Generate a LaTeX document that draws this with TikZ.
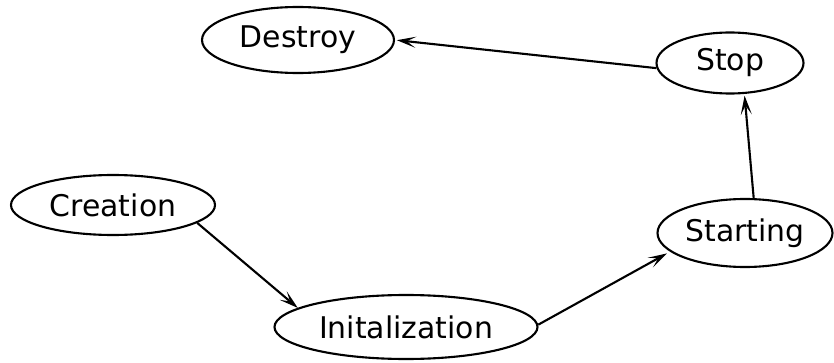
\documentclass[tikz,border=0pt]{standalone}
\usepackage{fontspec}
\setmainfont{DejaVu Sans}
\usetikzlibrary{shapes.geometric, arrows.meta, positioning}
\tikzset{
	state/.style={ellipse, draw=black, line width=1.2pt, inner sep=0pt, text centered, font=\fontsize{17}{20}\selectfont},
	flowarrow/.style={-{Stealth[length=3.8mm, width=2.2mm, inset=1.8mm]}, line width=1.2pt},
}
\begin{document}
\begin{tikzpicture}
	\useasboundingbox (0,0) rectangle (16.68,7.24);
	% lifecycle states
	\node[state, minimum width=3.84cm, minimum height=1.32cm] (destroy) at (5.96,6.44) {Destroy};
	\node[state, minimum width=2.94cm, minimum height=1.22cm] (stop) at (14.6,5.98) {Stop};
	\node[state, minimum width=4.08cm, minimum height=1.2cm] (creation) at (2.26,3.14) {Creation};
	\node[state, minimum width=3.5cm, minimum height=1.36cm] (starting) at (14.9,2.58) {Starting};
	\node[state, minimum width=5.26cm, minimum height=1.28cm] (init) at (8.12,0.7) {Initalization};
	% transitions
	\draw[flowarrow] (creation.-12) -- (init.170);
	\draw[flowarrow, shorten >=2pt] (init.1) -- (starting.194);
	\draw[flowarrow, shorten >=1pt] (starting.76) -- (stop.-65);
	\draw[flowarrow, shorten >=1pt] (stop.184) -- (destroy.0);
\end{tikzpicture}
\end{document}
